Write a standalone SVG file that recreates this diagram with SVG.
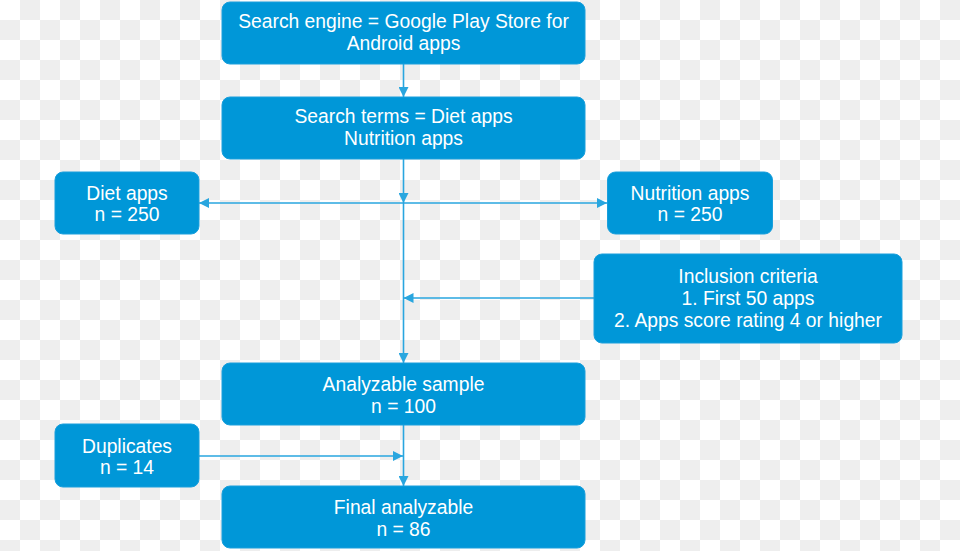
<svg xmlns="http://www.w3.org/2000/svg" width="960" height="551" viewBox="0 0 960 551">
<defs>
<pattern id="checker" x="0" y="0" width="40" height="40" patternUnits="userSpaceOnUse">
<rect width="40" height="40" fill="#ffffff"/>
<rect x="20" y="0" width="20" height="20" fill="#eeeeee"/>
<rect x="0" y="20" width="20" height="20" fill="#eeeeee"/>
</pattern>
<marker id="arr" viewBox="0 0 10 10" refX="10" refY="5" markerWidth="10" markerHeight="10" markerUnits="userSpaceOnUse" orient="auto-start-reverse">
<path d="M0,0 L10,5 L0,10 Z" fill="#29a6df"/>
</marker>
<style>
.box{fill:#0097d8;stroke:#1a9fdc;stroke-width:1}
.t{font-family:"Liberation Sans",Arial,sans-serif;font-size:19.3px;fill:#ffffff;text-anchor:middle}
.c{stroke:#29a6df;stroke-width:1.6;fill:none}
</style>
</defs>
<rect width="960" height="551" fill="url(#checker)"/>
<g id="connectors">
<line class="c" x1="403.5" y1="64" x2="403.5" y2="97" marker-end="url(#arr)"/>
<line class="c" x1="403.5" y1="159" x2="403.5" y2="203" marker-end="url(#arr)"/>
<line class="c" x1="403.5" y1="203" x2="403.5" y2="363" marker-end="url(#arr)"/>
<line class="c" x1="403.5" y1="203" x2="199" y2="203" marker-end="url(#arr)"/>
<line class="c" x1="403.5" y1="203" x2="607" y2="203" marker-end="url(#arr)"/>
<line class="c" x1="594" y1="298" x2="403.5" y2="298" marker-end="url(#arr)"/>
<line class="c" x1="403.5" y1="425" x2="403.5" y2="486" marker-end="url(#arr)"/>
<line class="c" x1="199" y1="456" x2="403" y2="456" marker-end="url(#arr)"/>
</g>
<g id="search-engine">
<rect class="box" x="222" y="2" width="363" height="62" rx="8"/>
<text class="t" x="403.5" y="28">Search engine = Google Play Store for</text>
<text class="t" x="403.5" y="50">Android apps</text>
</g>
<g id="search-terms">
<rect class="box" x="222" y="97" width="363" height="62" rx="8"/>
<text class="t" x="403.5" y="123">Search terms = Diet apps</text>
<text class="t" x="403.5" y="145">Nutrition apps</text>
</g>
<g id="diet-apps">
<rect class="box" x="55" y="172" width="144" height="62" rx="8"/>
<text class="t" x="127" y="200">Diet apps</text>
<text class="t" x="127" y="221">n = 250</text>
</g>
<g id="nutrition-apps">
<rect class="box" x="607.5" y="172" width="165" height="62" rx="8"/>
<text class="t" x="690" y="200">Nutrition apps</text>
<text class="t" x="690" y="221">n = 250</text>
</g>
<g id="inclusion-criteria">
<rect class="box" x="594" y="254" width="308" height="89" rx="8"/>
<text class="t" x="748" y="283">Inclusion criteria</text>
<text class="t" x="748" y="305">1. First 50 apps</text>
<text class="t" x="748" y="327">2. Apps score rating 4 or higher</text>
</g>
<g id="analyzable-sample">
<rect class="box" x="222" y="363" width="363" height="62" rx="8"/>
<text class="t" x="403.5" y="391">Analyzable sample</text>
<text class="t" x="403.5" y="413">n = 100</text>
</g>
<g id="duplicates">
<rect class="box" x="55" y="424" width="144" height="63" rx="8"/>
<text class="t" x="127" y="453">Duplicates</text>
<text class="t" x="127" y="474">n = 14</text>
</g>
<g id="final-analyzable">
<rect class="box" x="222" y="486" width="363" height="62" rx="8"/>
<text class="t" x="403.5" y="514">Final analyzable</text>
<text class="t" x="403.5" y="536">n = 86</text>
</g>
</svg>
